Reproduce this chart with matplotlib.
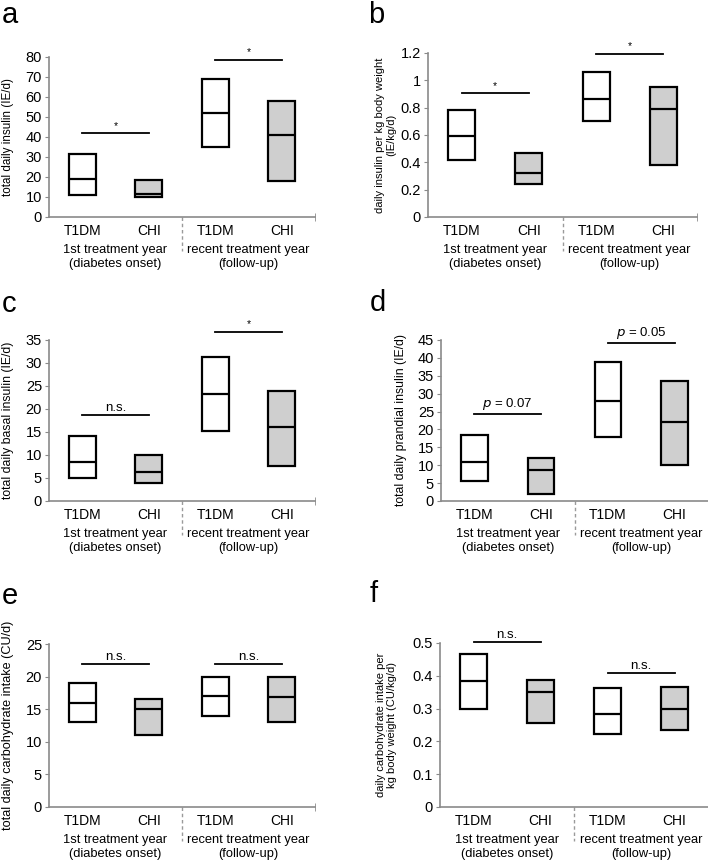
import matplotlib
matplotlib.use("Agg")
import matplotlib.pyplot as plt
from matplotlib import transforms as mtransforms

plt.rcParams['font.family'] = ['Liberation Sans', 'DejaVu Sans']

categories = ["T1DM", "CHI", "T1DM", "CHI"]
group_labels = ["1st treatment year\n(diabetes onset)", "recent treatment year\n(follow-up)"]

# panel a: total daily insulin
a_low = [11, 10, 35, 18]
a_med = [19, 11.5, 52, 41]
a_high = [31.5, 18.5, 69, 58]
# panel b: daily insulin per kg
b_low = [0.42, 0.24, 0.70, 0.38]
b_med = [0.59, 0.32, 0.865, 0.79]
b_high = [0.78, 0.465, 1.06, 0.95]
# panel c: basal insulin
c_low = [4.9, 4.0, 15.3, 7.7]
c_med = [8.5, 6.3, 23.2, 16.0]
c_high = [14.1, 10.1, 31.2, 24.0]
# panel d: prandial insulin
d_low = [5.7, 2.0, 18.0, 10.0]
d_med = [10.9, 8.6, 27.9, 22.0]
d_high = [18.5, 12.1, 38.9, 33.5]
# panel e: carbohydrate intake
e_low = [13.0, 11.0, 14.0, 13.0]
e_med = [16.0, 15.0, 17.0, 16.8]
e_high = [19.0, 16.5, 20.0, 20.0]
# panel f: carbohydrate intake per kg
f_low = [0.30, 0.257, 0.224, 0.234]
f_med = [0.383, 0.351, 0.285, 0.300]
f_high = [0.467, 0.387, 0.364, 0.367]

# significance annotations: (left cat, right cat, y, text)
a_sig = [(1, 2, 41.8, "*"), (3, 4, 78.7, "*")]
b_sig = [(1, 2, 0.904, "*"), (3, 4, 1.193, "*")]
c_sig = [(1, 2, 18.7, "n.s."), (3, 4, 36.7, "*")]
d_sig = [(1, 2, 24.4, "$\\it{p}$ = 0.07"), (3, 4, 44.3, "$\\it{p}$ = 0.05")]
e_sig = [(1, 2, 21.9, "n.s."), (3, 4, 21.9, "n.s.")]
f_sig = [(1, 2, 0.502, "n.s."), (3, 4, 0.408, "n.s.")]

W, H = 708, 860
fig = plt.figure(figsize=(W / 100, H / 100), dpi=100)

def px_rect(left, right, top, bottom):
    return [left / W, 1 - bottom / H, (right - left) / W, (bottom - top) / H]

panels = [
    ("a", px_rect(49, 315, 57, 217), a_low, a_med, a_high, a_sig, (0, 80), [0, 10, 20, 30, 40, 50, 60, 70, 80],
     ["0", "10", "20", "30", "40", "50", "60", "70", "80"], "total daily insulin (IE/d)", -0.132, 8.4, (2, 15)),
    ("b", px_rect(428, 697, 53, 217), b_low, b_med, b_high, b_sig, (0, 1.2), [0, 0.2, 0.4, 0.6, 0.8, 1.0, 1.2],
     ["0", "0.2", "0.4", "0.6", "0.8", "1", "1.2"], "daily insulin per kg body weight\n(IE/kg/d)", -0.119, 8.0, (368, 15)),
    ("c", px_rect(49, 315, 340, 501), c_low, c_med, c_high, c_sig, (0, 35), [0, 5, 10, 15, 20, 25, 30, 35],
     ["0", "5", "10", "15", "20", "25", "30", "35"], "total daily basal insulin (IE/d)", -0.132, 8.8, (2, 304)),
    ("d", px_rect(441, 708, 340, 501), d_low, d_med, d_high, d_sig, (0, 45), [0, 5, 10, 15, 20, 25, 30, 35, 40, 45],
     ["0", "5", "10", "15", "20", "25", "30", "35", "40", "45"], "total daily prandial insulin (IE/d)", -0.127, 8.8, (370, 303)),
    ("e", px_rect(49, 315, 644, 807), e_low, e_med, e_high, e_sig, (0, 25), [0, 5, 10, 15, 20, 25],
     ["0", "5", "10", "15", "20", "25"], "total daily carbohydrate intake (CU/d)", -0.132, 9.1, (2, 596)),
    ("f", px_rect(440, 708, 643, 807), f_low, f_med, f_high, f_sig, (0, 0.5), [0, 0.1, 0.2, 0.3, 0.4, 0.5],
     ["0", "0.1", "0.2", "0.3", "0.4", "0.5"], "daily carbohydrate intake per\nkg body weight (CU/kg/d)", -0.16, 8.0, (370, 594)),
]

fills = ["white", "#cfcfcf", "white", "#cfcfcf"]
xs = [1, 2, 3, 4]
box_w = 0.4
spine_c = "#8a8a8a"

for letter, rect, lo, med, hi, sig, ylim, yt, ytl, ylab, ylx, ylfs, lpos in panels:
    ax = fig.add_axes(rect)
    heights = [h - l for h, l in zip(hi, lo)]
    ax.bar(xs, heights, bottom=lo, width=box_w, color=fills, edgecolor="black", linewidth=1.6, zorder=3)
    ax.hlines(med, [x - box_w / 2 for x in xs], [x + box_w / 2 for x in xs], colors="black", linewidth=1.6, zorder=4)
    for x1, x2, y, txt in sig:
        ax.plot([x1, x2], [y, y], color="black", linewidth=1.3, clip_on=False, zorder=4)
        if txt == "*":
            ax.annotate(txt, ((x1 + x2) / 2, y), xytext=(0, 2), textcoords="offset points",
                        ha="center", va="bottom", fontsize=7.5, annotation_clip=False)
        else:
            ax.annotate(txt, ((x1 + x2) / 2, y), xytext=(0, 1), textcoords="offset points",
                        ha="center", va="bottom", fontsize=9.5, annotation_clip=False)
    ax.set_xlim(0.5, 4.5)
    ax.set_ylim(*ylim)
    ax.set_yticks(yt)
    ax.set_yticklabels(ytl, fontsize=10.5)
    ax.set_xticks(xs)
    ax.set_xticklabels(categories, fontsize=10)
    ax.tick_params(axis="x", length=0, pad=5)
    ax.tick_params(axis="y", length=3, color=spine_c, pad=2)
    ax.set_xticks([4.5], minor=True)
    ax.tick_params(axis="x", which="minor", length=6, direction="inout", color=spine_c)
    for s in ["top", "right"]:
        ax.spines[s].set_visible(False)
    for s in ["left", "bottom"]:
        ax.spines[s].set_color(spine_c)
        ax.spines[s].set_linewidth(1.2)
    ax.set_ylabel(ylab, fontsize=ylfs, linespacing=1.15)
    ax.yaxis.set_label_coords(ylx, 0.5)
    trans = mtransforms.blended_transform_factory(ax.transData, ax.transAxes)
    off = mtransforms.offset_copy
    for gx, gl in zip([1.5, 3.5], group_labels):
        ax.text(gx, 0, gl, transform=off(trans, fig=fig, y=-19.7, units="points"),
                ha="center", va="top", fontsize=9.3, linespacing=1.2)
    ax.plot([2.5, 2.5], [0, -0.21], transform=trans, color="#9a9a9a", linestyle=(0, (2.5, 2)),
            linewidth=1.0, clip_on=False)
    fig.text(lpos[0] / W, 1 - lpos[1] / H, letter, fontsize=21, ha="left", va="center")

fig.savefig("out.png", dpi=100)
